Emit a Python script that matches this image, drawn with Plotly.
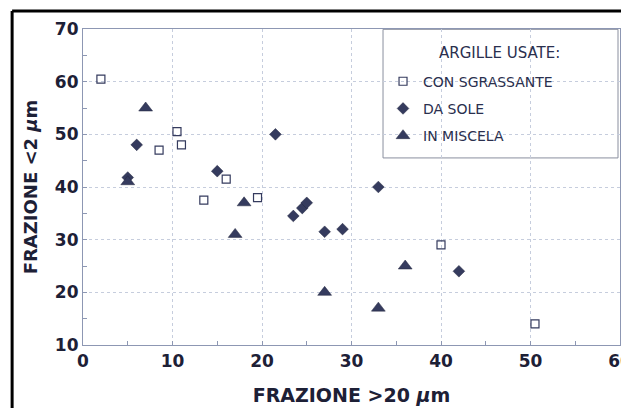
import plotly.graph_objects as go

# CON SGRASSANTE
sgr_x = [2, 10.5, 8.5, 11, 16, 13.5, 19.5, 40, 50.5]
sgr_y = [60.5, 50.5, 47, 48, 41.5, 37.5, 38, 29, 14]
# DA SOLE
sole_x = [5, 6, 15, 21.5, 23.5, 24.5, 25, 27, 29, 33, 42]
sole_y = [41.8, 48, 43, 50, 34.5, 36, 37, 31.5, 32, 40, 24]
# IN MISCELA
misc_x = [5, 7, 18, 17, 27, 33, 36]
misc_y = [41, 55, 37, 31, 20, 17, 25]

x_ticks = [0, 10, 20, 30, 40, 50, 60]
y_ticks = [10, 20, 30, 40, 50, 60, 70]

INK = "#1d2036"
MK = "#353b5e"
AX = "#8d97b3"
FONT = "DejaVu Sans, sans-serif"
LEG_INK = "#2a2f4e"

fig = go.Figure()
fig.add_trace(go.Scatter(x=sgr_x, y=sgr_y, mode="markers", name="CON SGRASSANTE",
                         legendgroup="a",
                         marker=dict(symbol="square-open", size=8, color=MK,
                                     line=dict(width=1.2, color=MK))))
fig.add_trace(go.Scatter(x=sole_x, y=sole_y, mode="markers", name="DA SOLE",
                         legendgroup="b",
                         marker=dict(symbol="diamond", size=9, color=MK,
                                     line=dict(width=0.5, color="#22263f"))))
fig.add_trace(go.Scatter(x=misc_x, y=misc_y, mode="markers", name="IN MISCELA",
                         legendgroup="c",
                         marker=dict(symbol="triangle-up", size=12, color=MK,
                                     line=dict(width=0.5, color="#22263f"))))

axis_common = dict(
    showline=True, linecolor=AX, linewidth=1.2, mirror=True,
    showgrid=True, gridcolor="#c6cddd", griddash="dot", gridwidth=1,
    ticks="inside", ticklen=4, tickcolor=AX,
    minor=dict(ticks="inside", ticklen=4, tickcolor=AX, dtick=5, showgrid=False),
    zeroline=False, automargin=False, ticklabeloverflow="allow",
    tickfont=dict(family=FONT, size=17, color=INK, weight="bold"),
)

fig.update_xaxes(range=[0, 60], tickvals=x_ticks, ticktext=[str(v) for v in x_ticks],
                 title=dict(text="FRAZIONE >20 <i>μ</i>m",
                            font=dict(family=FONT, size=19, color=INK, weight="bold"),
                            standoff=19),
                 **axis_common)
fig.update_yaxes(range=[10, 70], tickvals=y_ticks, ticktext=[str(v) for v in y_ticks],
                 title=dict(text="FRAZIONE <2 <i>μ</i>m",
                            font=dict(family=FONT, size=18, color=INK, weight="bold"),
                            standoff=12),
                 **axis_common)

# outer black frame of the scanned page
frame = dict(type="line", xref="paper", yref="paper", line=dict(color="black", width=3))
fig.add_shape(x0=-0.132, x1=-0.132, y0=-0.25, y1=1.057, **frame)
fig.add_shape(x0=-0.132, x1=1.013, y0=1.057, y1=1.057, **frame)
fig.add_shape(x0=1.013, x1=1.013, y0=-0.25, y1=1.057, **frame)

# legend box
fig.add_shape(type="rect", xref="paper", yref="paper", x0=0.5587, x1=0.9963,
              y0=0.592, y1=0.999, layer="between", fillcolor="white",
              line=dict(color="#8a8f9e", width=1))
fig.add_annotation(text="ARGILLE USATE:", xref="paper", yref="paper",
                   x=0.7765, y=0.924, showarrow=False, xanchor="center", yanchor="middle",
                   font=dict(family=FONT, size=15, color=LEG_INK))

fig.update_layout(
    width=621, height=400,
    margin=dict(l=75, r=9, t=21, b=63, autoexpand=False),
    paper_bgcolor="white", plot_bgcolor="white",
    font=dict(family=FONT, color=INK),
    legend=dict(
        x=0.5587, y=0.884, xanchor="left", yanchor="top",
        bgcolor="rgba(0,0,0,0)", borderwidth=0,
        font=dict(family=FONT, size=14, color=LEG_INK),
        tracegroupgap=6, itemwidth=30,
    ),
)

fig.write_html("out.html")
